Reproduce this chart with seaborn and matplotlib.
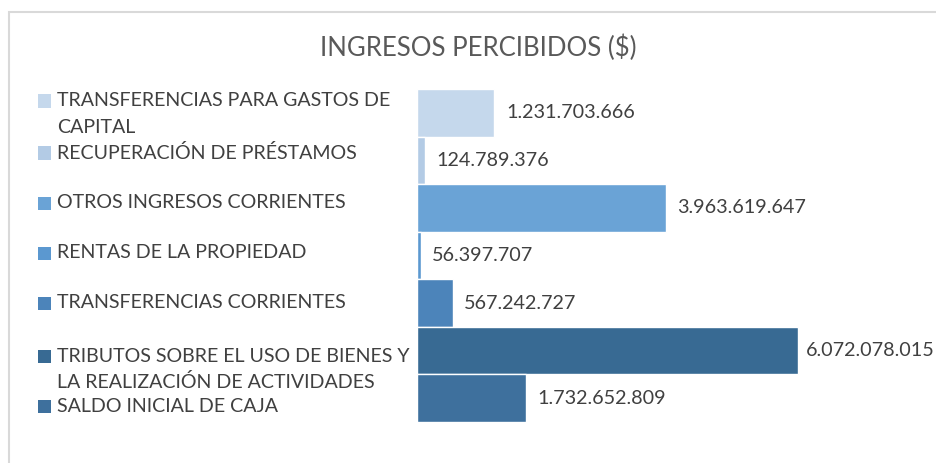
import numpy as np
import pandas as pd
import matplotlib
matplotlib.use('Agg')
import matplotlib.pyplot as plt
import seaborn as sns
from matplotlib.patches import Rectangle

categorias = [
    'TRANSFERENCIAS PARA GASTOS DE\nCAPITAL',
    'RECUPERACIÓN DE PRÉSTAMOS',
    'OTROS INGRESOS CORRIENTES',
    'RENTAS DE LA PROPIEDAD',
    'TRANSFERENCIAS CORRIENTES',
    'TRIBUTOS SOBRE EL USO DE BIENES Y\nLA REALIZACIÓN DE ACTIVIDADES',
    'SALDO INICIAL DE CAJA',
]
valores = [1231703666, 124789376, 3963619647, 56397707, 567242727, 6072078015, 1732652809]
etiquetas = ['1.231.703.666', '124.789.376', '3.963.619.647', '56.397.707',
             '567.242.727', '6.072.078.015', '1.732.652.809']
colores = ['#c5d8ec', '#b3cbe5', '#6aa3d6', '#5b98d0', '#4c84ba', '#386a93', '#3e709d']

# posiciones (px desde arriba) de la primera linea de cada texto de la leyenda
leyenda_y = [101, 153, 203, 253, 303, 356, 406]

sns.set_theme(style='white')
plt.rcParams['font.family'] = ['Lato', 'DejaVu Sans']

W, H = 936, 463
fig = plt.figure(figsize=(W / 100, H / 100), dpi=100, facecolor='white')
ax = fig.add_axes([417 / W, (H - 422) / H, (W - 417) / W, 333 / H])

df = pd.DataFrame({'categoria': categorias, 'valor': valores})
sns.barplot(data=df, x='valor', y='categoria', hue='categoria', palette=colores,
            width=1.0, orient='h', legend=False, ax=ax, saturation=1)

ax.set_xlim(0, (W - 417) / 62.7e-9)
ax.set_ylim(len(categorias) - 0.5, -0.5)
ax.axis('off')

anotaciones = []
for i, (v, t) in enumerate(zip(valores, etiquetas)):
    a = ax.annotate(t, xy=(v, i), xytext=(8.5, 0), textcoords='offset points',
                    va='center', ha='left', fontsize=14.2, color='#404040',
                    annotation_clip=False)
    anotaciones.append(a)

# si una etiqueta no cabe, se acerca a la barra (como hace Excel)
fig.canvas.draw()
r = fig.canvas.get_renderer()
for a in anotaciones:
    bb = a.get_window_extent(r)
    if bb.x1 > W - 1:
        dx = (bb.x1 - (W - 1)) * 72 / 100
        a.xyann = (max(8.5 - dx, 1.5), 0)

# leyenda a la izquierda
for cat, y0, c in zip(categorias, leyenda_y, colores):
    fig.patches.append(Rectangle((38 / W, (H - y0 - 6.5) / H), 13 / W, 13 / H,
                                 transform=fig.transFigure, facecolor=c, edgecolor='none'))
    for k, linea in enumerate(cat.split('\n')):
        fig.text(57 / W, (H - y0 - 26.5 * k) / H, linea, ha='left', va='center',
                 fontsize=14.1, color='#404040')

fig.text(478 / W, (H - 48) / H, 'INGRESOS PERCIBIDOS ($)', ha='center', va='center',
         fontsize=18.5, color='#595959')

# marco del grafico
fig.patches.append(Rectangle((9 / W, -0.1), 1.2, (H - 12) / H + 0.1,
                             transform=fig.transFigure, facecolor='none',
                             edgecolor='#d9d9d9', linewidth=1.5))

plt.savefig('out.png', dpi=100)
